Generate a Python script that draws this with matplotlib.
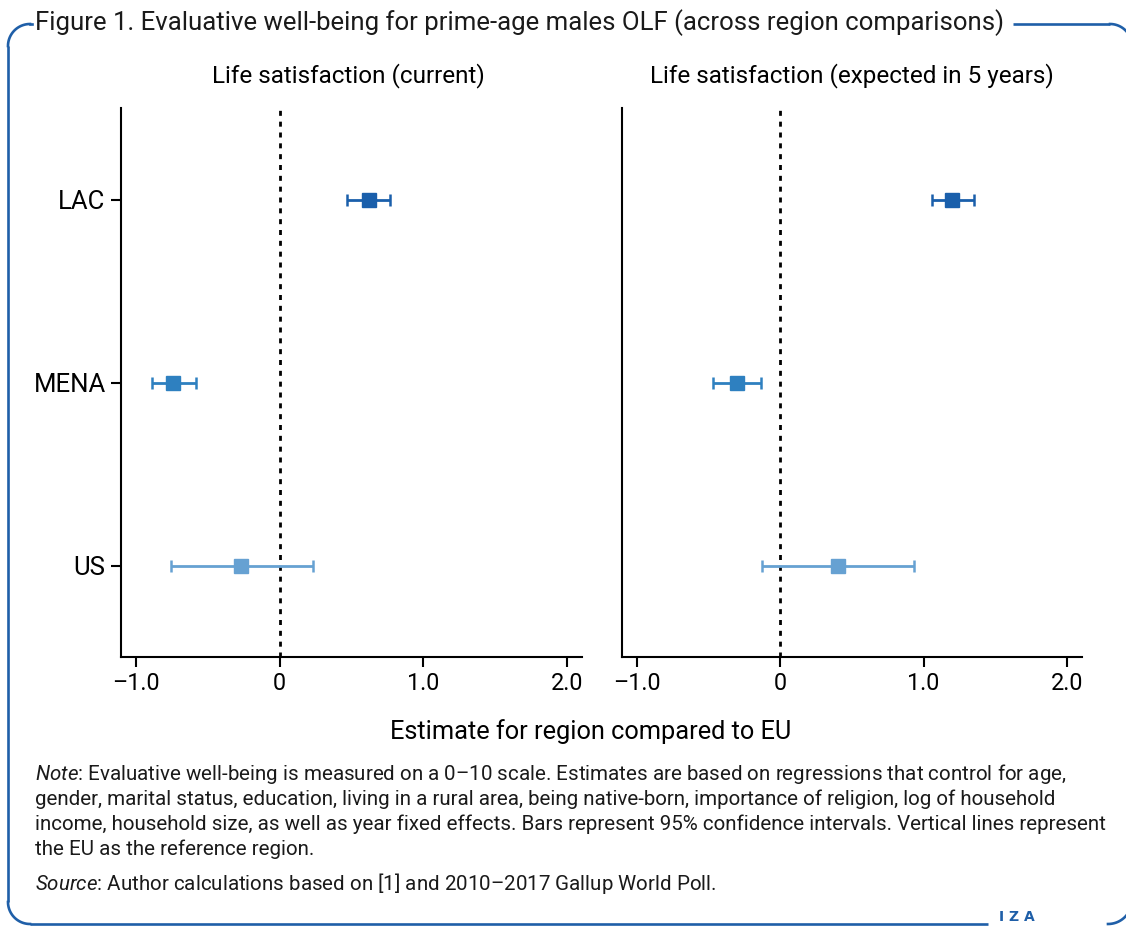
import numpy as np
import matplotlib
matplotlib.use("Agg")
import matplotlib.pyplot as plt
from matplotlib import font_manager

# font: narrow sans if we have it
names = {f.name for f in font_manager.fontManager.ttflist}
fam = "Liberation Sans Narrow" if "Liberation Sans Narrow" in names else "Roboto"
plt.rcParams["font.family"] = [fam, "DejaVu Sans"]
plt.rcParams["mathtext.fontset"] = "custom"
plt.rcParams["mathtext.it"] = fam + ":italic"
plt.rcParams["mathtext.rm"] = fam

# data
regions = ["LAC", "MENA", "US"]
colors = ["#1a5fab", "#2e80c0", "#66a1d2"]

current_est = [0.62, -0.74, -0.27]
current_lo = [0.47, -0.89, -0.76]
current_hi = [0.77, -0.585, 0.23]

expected_est = [1.20, -0.305, 0.40]
expected_lo = [1.06, -0.47, -0.13]
expected_hi = [1.35, -0.135, 0.935]

xticks = [-1, 0, 1, 2]
xticklabels = ["\u20131.0", "0", "1.0", "2.0"]

panel_titles = ["Life satisfaction (current)", "Life satisfaction (expected in 5 years)"]

W, H = 1126, 927
fig = plt.figure(figsize=(W / 100, H / 100), dpi=100)

frame_col = "#1f5fa8"

# background axes in pixel coords for the rounded frame
bg = fig.add_axes([0, 0, 1, 1])
bg.set_xlim(0, W)
bg.set_ylim(H, 0)
bg.axis("off")
bg.patch.set_visible(False)

r = 22
t = np.linspace(np.pi, 1.5 * np.pi, 30)
lw_f = 1.9
# left side with top-left and bottom-left corners
bg.plot([8, 8], [24 + r, 924 - r], color=frame_col, lw=lw_f, solid_capstyle="butt")
bg.plot(8 + r + r * np.cos(t), 24 + r + r * np.sin(t), color=frame_col, lw=lw_f)
bg.plot([8 + r, 32], [24, 24], color=frame_col, lw=lw_f)
t2 = np.linspace(0.5 * np.pi, np.pi, 30)
bg.plot(8 + r + r * np.cos(t2), 924 - r + r * np.sin(t2), color=frame_col, lw=lw_f)
bg.plot([8 + r, 988], [924, 924], color=frame_col, lw=lw_f, solid_capstyle="butt")
# top right
bg.plot([1013, 1110], [24, 24], color=frame_col, lw=lw_f, solid_capstyle="butt")
t3 = np.linspace(1.5 * np.pi, 2 * np.pi, 30)
bg.plot(1110 + 22 * np.cos(t3), 46 + 22 * np.sin(t3), color=frame_col, lw=lw_f)
# bottom right
t4 = np.linspace(0, 0.5 * np.pi, 30)
bg.plot(1108 + 24 * np.cos(t4), 900 + 24 * np.sin(t4), color=frame_col, lw=lw_f)
bg.text(999, 921, "I Z A", color=frame_col, fontsize=10, fontweight="bold",
        ha="left", va="baseline", family=["DejaVu Sans"])

fig.text(35 / W, 1 - 30 / H,
         "Figure 1. Evaluative well-being for prime-age males OLF (across region comparisons)",
         fontsize=18.5, color="#1a1a1a", ha="left", va="baseline")

ypos = np.arange(len(regions))[::-1] + 1

ax1 = fig.add_axes([121 / W, 1 - 657 / H, 461 / W, 549 / H])
ax2 = fig.add_axes([622 / W, 1 - 657 / H, 460 / W, 549 / H])

panels = [(ax1, current_est, current_lo, current_hi),
          (ax2, expected_est, expected_lo, expected_hi)]

for k, (ax, est, lo, hi) in enumerate(panels):
    for i in range(len(regions)):
        ax.errorbar(est[i], ypos[i],
                    xerr=[[est[i] - lo[i]], [hi[i] - est[i]]],
                    fmt="s", color=colors[i], ms=9.5, mec=colors[i],
                    elinewidth=2, capsize=4, capthick=1.8, zorder=3)
    ax.axvline(0, color="black", lw=2, linestyle=(0, (1.8, 2.1)), zorder=2)
    ax.set_xlim(-1.105, 2.105)
    ax.set_ylim(0.5, 3.5)
    ax.set_xticks(xticks)
    ax.set_xticklabels(xticklabels, fontsize=16.8)
    for s in ["top", "right"]:
        ax.spines[s].set_visible(False)
    for s in ["left", "bottom"]:
        ax.spines[s].set_linewidth(1.5)
    ax.tick_params(axis="x", length=7, width=1.5, pad=4)
    if k == 0:
        ax.set_yticks(ypos)
        ax.set_yticklabels(regions, fontsize=18.5)
        ax.tick_params(axis="y", length=7, width=1.5, pad=4)
    else:
        ax.set_yticks([])

fig.text(348.5 / W, 1 - 82 / H, panel_titles[0], fontsize=17.5, ha="center", va="baseline")
fig.text(851.5 / W, 1 - 82 / H, panel_titles[1], fontsize=17.5, ha="center", va="baseline")

fig.text(591 / W, 1 - 739 / H, "Estimate for region compared to EU",
         fontsize=18.3, ha="center", va="baseline")

note_lines = [
    "$\\it{Note}$: Evaluative well-being is measured on a 0\u201310 scale. Estimates are based on regressions that control for age,",
    "gender, marital status, education, living in a rural area, being native-born, importance of religion, log of household",
    "income, household size, as well as year fixed effects. Bars represent 95% confidence intervals. Vertical lines represent",
    "the EU as the reference region.",
]
for j, line in enumerate(note_lines):
    fig.text(35 / W, 1 - (780 + 25 * j) / H, line, fontsize=14.8, color="#1a1a1a",
             ha="left", va="baseline")
fig.text(35 / W, 1 - 890 / H,
         "$\\it{Source}$: Author calculations based on [1] and 2010\u20132017 Gallup World Poll.",
         fontsize=14.8, color="#1a1a1a", ha="left", va="baseline")

fig.savefig("out.png", dpi=100)
